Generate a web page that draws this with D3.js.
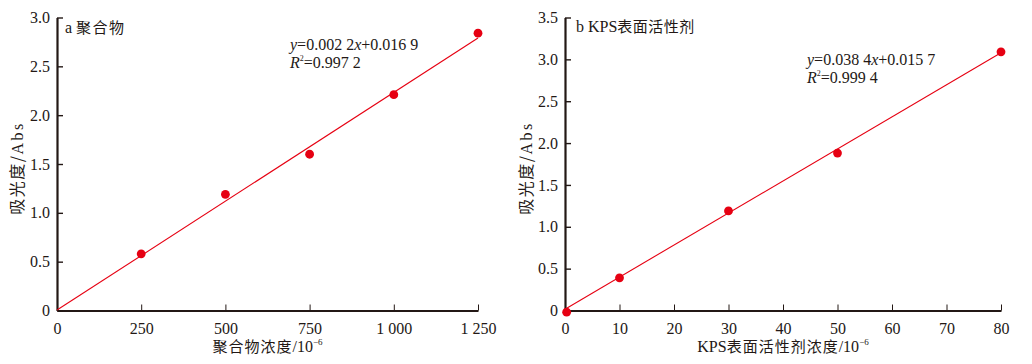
<!DOCTYPE html>
<html><head><meta charset="utf-8">
<script src="https://cdn.jsdelivr.net/npm/d3@7"></script>
<style>
html,body{margin:0;padding:0;background:#fff;}
svg{display:block;}
.tick text{font-family:"Liberation Serif","Times New Roman",serif;font-size:16px;fill:#231815;}
</style></head>
<body>
<svg id="chart" width="1032" height="364"></svg>
<script>
// ---- data ----
const polymerConc = [250, 500, 750, 1000, 1250];
const polymerAbs  = [0.58, 1.19, 1.60, 2.21, 2.84];
const polymerFitX = [0, 1250];
const polymerFitY = [0.005, 2.79];
const polymerXTicks = [0, 250, 500, 750, 1000, 1250];
const polymerXTickLabels = ["0", "250", "500", "750", "1 000", "1 250"];
const polymerYTicks = [0, 0.5, 1.0, 1.5, 2.0, 2.5, 3.0];
const polymerYTickLabels = ["0", "0.5", "1.0", "1.5", "2.0", "2.5", "3.0"];

const kpsConc = [0.3, 10, 30, 50, 80];
const kpsAbs  = [-0.02, 0.39, 1.19, 1.88, 3.09];
const kpsFitX = [0, 80];
const kpsFitY = [0.016, 3.08];
const kpsXTicks = [0, 10, 20, 30, 40, 50, 60, 70, 80];
const kpsXTickLabels = ["0", "10", "20", "30", "40", "50", "60", "70", "80"];
const kpsYTicks = [0, 0.5, 1.0, 1.5, 2.0, 2.5, 3.0, 3.5];
const kpsYTickLabels = ["0", "0.5", "1.0", "1.5", "2.0", "2.5", "3.0", "3.5"];

const panelTitles = ["a 聚合物", "b KPS表面活性剂"];
const xTitles = ["聚合物浓度/10", "KPS表面活性剂浓度/10"];
const yTitle = "吸光度/Abs";
const eqSlopes = ["0.002 2", "0.038 4"];
const eqIntercepts = ["0.016 9", "0.015 7"];
const eqR2 = ["0.997 2", "0.999 4"];

// ---- drawing ----
const svg = d3.select("#chart");
const INK = "#231815", RED = "#e60012";
const SERIF = '"Liberation Serif","Times New Roman",serif';
const CJK = '"Noto Sans CJK SC",sans-serif';

const panels = [
  {xs: polymerConc, ys: polymerAbs, fx: polymerFitX, fy: polymerFitY,
   xd: [0, 1250], yd: [0, 3.0], xr: [57, 478], yr: [310.5, 17.5],
   xt: polymerXTicks, xtl: polymerXTickLabels, yt: polymerYTicks, ytl: polymerYTickLabels,
   titleX: 65, titleY: 33, eqX: 290, eqY: 50, yTitleX: 18},
  {xs: kpsConc, ys: kpsAbs, fx: kpsFitX, fy: kpsFitY,
   xd: [0, 80], yd: [0, 3.5], xr: [565, 1001], yr: [310.5, 17.5],
   xt: kpsXTicks, xtl: kpsXTickLabels, yt: kpsYTicks, ytl: kpsYTickLabels,
   titleX: 576, titleY: 32, eqX: 807, eqY: 65, yTitleX: 527}
];

panels.forEach((p, i) => {
  const x = d3.scaleLinear().domain(p.xd).range(p.xr);
  const y = d3.scaleLinear().domain(p.yd).range(p.yr);
  const g = svg.append("g");

  // x axis
  const xa = g.append("g").attr("transform", `translate(0,${p.yr[0]})`)
    .call(d3.axisBottom(x).tickValues(p.xt).tickSizeInner(-6).tickSizeOuter(0).tickPadding(12)
      .tickFormat((d, k) => p.xtl[k]));
  xa.select(".domain").attr("stroke", INK).attr("stroke-width", 2.2);
  xa.selectAll(".tick line").attr("stroke", INK).attr("stroke-width", 1);
  xa.selectAll(".tick text").attr("dy", "0.71em");

  // y axis
  const ya = g.append("g").attr("transform", `translate(${p.xr[0]},0)`)
    .call(d3.axisLeft(y).tickValues(p.yt).tickSizeInner(-6).tickSizeOuter(0).tickPadding(7)
      .tickFormat((d, k) => p.ytl[k]));
  ya.select(".domain").attr("stroke", INK).attr("stroke-width", 2.2);
  ya.selectAll(".tick line").attr("stroke", INK).attr("stroke-width", 1.4);

  // fit line
  const fit = p.fx.map((v, k) => [v, p.fy[k]]);
  g.append("path").datum(fit)
    .attr("d", d3.line().x(d => x(d[0])).y(d => y(d[1])))
    .attr("stroke", RED).attr("stroke-width", 1.1).attr("fill", "none");

  // points
  g.selectAll("circle.pt").data(p.xs.map((v, k) => [v, p.ys[k]])).join("circle")
    .attr("class", "pt").attr("cx", d => x(d[0])).attr("cy", d => y(d[1]))
    .attr("r", 4.4).attr("fill", RED);

  // panel title
  const pt = g.append("text").attr("x", p.titleX).attr("y", p.titleY)
    .attr("font-size", 15).attr("fill", INK);
  const parts = panelTitles[i].match(/^([A-Za-z ]+)(.*)$/);
  pt.append("tspan").attr("font-family", SERIF).attr("font-size", 16).text(parts[1]);
  pt.append("tspan").attr("font-family", CJK).attr("letter-spacing", i === 0 ? 1.5 : 0.5).text(parts[2]);

  // equation
  const eq = g.append("text").attr("x", p.eqX).attr("y", p.eqY)
    .attr("font-family", SERIF).attr("font-size", 16).attr("fill", INK);
  eq.append("tspan").attr("font-style", "italic").text("y");
  eq.append("tspan").text("=" + eqSlopes[i]);
  eq.append("tspan").attr("font-style", "italic").text("x");
  eq.append("tspan").text("+" + eqIntercepts[i]);
  const r2 = g.append("text").attr("x", p.eqX).attr("y", p.eqY + 17.5)
    .attr("font-family", SERIF).attr("font-size", 16).attr("fill", INK);
  r2.append("tspan").attr("font-style", "italic").text("R");
  r2.append("tspan").attr("font-size", 8).attr("dy", -7).text("2");
  r2.append("tspan").attr("dy", 7).text("=" + eqR2[i]);

  // x title
  const cx = (p.xr[0] + p.xr[1]) / 2;
  const xt = g.append("text").attr("x", cx).attr("y", 352)
    .attr("text-anchor", "middle").attr("fill", INK).attr("font-size", 16);
  const xm = xTitles[i].match(/^([A-Za-z]*)(.*?)(\/10)$/);
  if (xm[1]) xt.append("tspan").attr("font-family", SERIF).text(xm[1]);
  xt.append("tspan").attr("font-family", CJK).attr("font-size", 15).attr("letter-spacing", 1).text(xm[2]);
  xt.append("tspan").attr("font-family", SERIF).text(xm[3]);
  xt.append("tspan").attr("font-family", SERIF).attr("font-size", 9).attr("dy", -7).text("−6");

  // y title
  const cy = (p.yr[0] + p.yr[1]) / 2 + 4;
  const yt = g.append("text").attr("transform", `translate(${p.yTitleX + 5},${cy}) rotate(-90)`)
    .attr("text-anchor", "middle").attr("fill", INK).attr("font-size", 16);
  yt.append("tspan").attr("font-family", CJK).attr("font-size", 16).attr("letter-spacing", 1.5).text(yTitle.slice(0, 4));
  yt.append("tspan").attr("font-family", SERIF).attr("letter-spacing", 2.5).text(yTitle.slice(4));
});
</script>
</body></html>
